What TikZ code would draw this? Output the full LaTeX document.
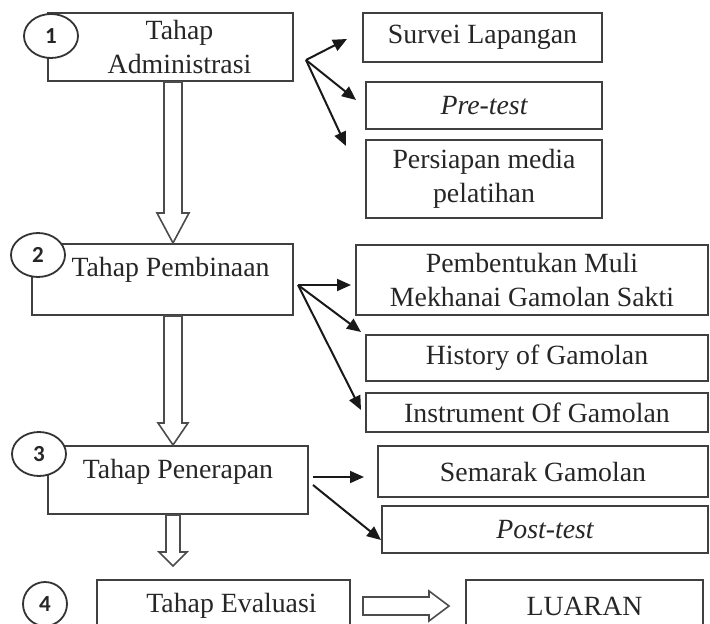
\documentclass[tikz,border=0pt]{standalone}
\usepackage{fontspec}
\setmainfont{Liberation Serif}
\newfontfamily\numfont{Carlito}
\usetikzlibrary{calc,arrows.meta,shapes.geometric}

\begin{document}
\begin{tikzpicture}[x=0.5pt, y=-0.5pt,
  every node/.style={font=\fontsize{13.9}{17}\selectfont, text=black!85},
  box/.style={draw=black!75, line width=1pt, rectangle, align=center, inner sep=0pt},
  num/.style={draw=black!80, line width=0.9pt, ellipse, fill=white, minimum width=27pt, minimum height=22pt, inner sep=0pt, font=\numfont\bfseries\fontsize{11.5}{11.5}\selectfont},
  fan/.style={-{Triangle[length=7pt,width=6pt]}, line width=1pt, black!90},
  fat/.style={draw=black!70, line width=0.8pt, fill=white},
  fatdown/.style n args={3}{to path={let \p1=(\tikztostart), \p2=(\tikztotarget) in
    ($(\p1)+(-#3,0)$) -- ($(\x1,\y2)+(-#3,-#1)$) -- ($(\x1,\y2)+(-#2,-#1)$) -- (\x1,\y2)
    -- ($(\x1,\y2)+(#2,-#1)$) -- ($(\x1,\y2)+(#3,-#1)$) -- ($(\p1)+(#3,0)$) -- cycle}},
  fatright/.style n args={3}{to path={let \p1=(\tikztostart), \p2=(\tikztotarget) in
    ($(\p1)+(0,-#3)$) -- ($(\x2,\y1)+(-#1,-#3)$) -- ($(\x2,\y1)+(-#1,-#2)$) -- (\x2,\y1)
    -- ($(\x2,\y1)+(-#1,#2)$) -- ($(\x2,\y1)+(-#1,#3)$) -- ($(\p1)+(0,#3)$) -- cycle}}]
\useasboundingbox (0,0) rectangle (710,624);

% Stage boxes
\node[box, minimum width=122.5pt, minimum height=34pt] (adm) at (170.5,47) {\hspace*{9pt}Tahap\\\hspace*{9pt}Administrasi};
\node[box, minimum width=130.5pt, minimum height=35.5pt, text depth=12.5pt] (pemb) at (162.5,279.5) {\hspace*{8pt}Tahap Pembinaan};
\node[box, minimum width=130pt, minimum height=34pt, text depth=11pt] (pene) at (178,480) {Tahap Penerapan};
\node[box, minimum width=126.5pt, minimum height=26pt] (eval) at (223.5,606) {\hspace*{8pt}Tahap Evaluasi};
\node[box, minimum width=118.5pt, minimum height=26pt] (luaran) at (584.5,606) {LUARAN};

% Numbers
\node[num] (n1) at (51,36) {1};
\node[num] (n2) at (38,255) {2};
\node[num] (n3) at (39,454) {3};
\node[num, minimum width=22pt] (n4) at (45,604) {4};

% Activities
\node[box, minimum width=119.5pt, minimum height=24.5pt] (survei) at (482.5,37.5) {Survei Lapangan};
\node[box, minimum width=118pt, minimum height=23.5pt] (pretest) at (484,105.5) {\itshape Pre-test};
\node[box, minimum width=118pt, minimum height=39pt] (media) at (484,179) {Persiapan media\\pelatihan};

\node[box, minimum width=176pt, minimum height=35pt] (muli) at (532,280) {Pembentukan Muli\\Mekhanai Gamolan Sakti};
\node[box, minimum width=171pt, minimum height=23pt] (history) at (537,358) {History of Gamolan};
\node[box, minimum width=171pt, minimum height=19.5pt] (instr) at (537,412.5) {Instrument Of Gamolan};

\node[box, minimum width=165pt, minimum height=25.5pt] (semarak) at (543,471.5) {Semarak Gamolan};
\node[box, minimum width=163pt, minimum height=23.5pt] (posttest) at (545,529.5) {\itshape Post-test};

% Fan connectors
\coordinate (f1) at ($(adm.east)+(12,13)$);
\draw[fan] (f1) -- ($(survei.west)+(-15,1.5)$);
\draw[fan] (f1) -- ($(pretest.west)+(-9,-5.5)$);
\draw[fan] (f1) -- ($(media.north west)+(-19,7)$);

\coordinate (f2) at ($(pemb.east)+(4,5.5)$);
\draw[fan] (f2) -- ($(muli.west)+(-4,5)$);
\draw[fan] (f2) -- ($(history.north west)+(-4,-2)$);
\draw[fan] (f2) -- ($(instr.west)+(-4,-2.5)$);

\coordinate (f3) at ($(pene.east)+(4,-3)$);
\coordinate (f4) at ($(pene.east)+(4,5)$);
\draw[fan] (f3) -- ($(semarak.west)+(-13,5.5)$);
\draw[fan] (f4) -- ($(posttest.west)+(0,10.5)$);

% Hollow arrows
\coordinate (axis) at (173,0);
\draw[fat] (adm.south -| axis) to[fatdown={30}{16}{9}] (pemb.north -| axis);
\draw[fat] (pemb.south -| axis) to[fatdown={22}{15}{9}] (pene.north -| axis);
\draw[fat] (pene.south -| axis) to[fatdown={14}{14}{7}] ($(eval.north -| axis)+(0,-13)$);
\draw[fat] ($(eval.east)+(12,0)$) to[fatright={20}{15}{9}] ($(luaran.west)+(-16,0)$);
\end{tikzpicture}
\end{document}
